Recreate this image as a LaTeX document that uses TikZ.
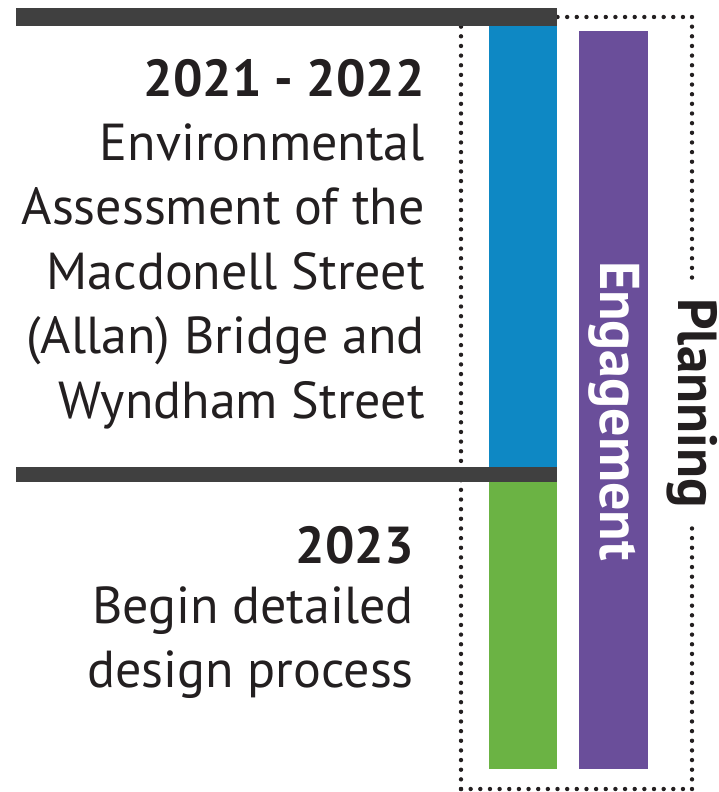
\documentclass[tikz,border=0pt]{standalone}
\usepackage{fontspec}
\setmainfont{PT Sans}
\usetikzlibrary{decorations.markings}
\definecolor{darkbar}{HTML}{404040}
\definecolor{barblue}{HTML}{0E88C4}
\definecolor{bargreen}{HTML}{6BB344}
\definecolor{barpurple}{HTML}{6A4E9A}
\definecolor{txt}{HTML}{231F20}
\tikzset{
  dotline/.style={decoration={markings, mark=between positions 0 and 1 step 9.65pt with {\fill[txt] (0,0) circle (2.2pt);}}, decorate},
  body/.style={anchor=base east, inner sep=0pt, text=txt, font=\fontsize{52}{64}\selectfont},
  year/.style={anchor=base east, inner sep=0pt, text=txt, font=\fontsize{52}{64}\selectfont\bfseries},
  vlabel/.style={rotate=-90, inner sep=0pt, font=\fontsize{56}{60}\selectfont\bfseries},
}
\begin{document}
\begin{tikzpicture}[x=1pt,y=-1pt]
\useasboundingbox (0,0) rectangle (718,792);
% dotted planning box
\coordinate (b1) at (461,17);
\coordinate (b2) at (692,17);
\coordinate (b3) at (692,789);
\coordinate (b4) at (461,789);
\path[dotline] (b1) -- (b2);
\path[dotline] (b2) -- (b3);
\path[dotline] (b4) -- (b3);
\path[dotline] (b1) -- (b4);
% bars
\fill[barblue] (489,26) rectangle (557,467);
\fill[bargreen] (489,482) rectangle (557,769);
\fill[barpurple] (579,31) rectangle (648,769);
\fill[darkbar] (16,8) rectangle (557,26);
\fill[darkbar] (16,467) rectangle (557,482);
% texts
\node[year] (y1) at (425,96) {2021 - 2022};
\node[body] (t1) at (425,160) {Environmental};
\node[body] (t2) at (425,224) {Assessment of the};
\node[body] (t3) at (425,289) {Macdonell Street};
\node[body] (t4) at (425,353) {(Allan) Bridge and};
\node[body] (t5) at (425,418) {Wyndham Street};
\node[year] (y2) at (414,563) {2023};
\node[body] (t6) at (414,623) {Begin detailed};
\node[body] (t7) at (414,687) {design process};
% rotated labels
\node[vlabel, text=white] (eng) at (614,411) {Engagement};
\node[vlabel, fill=white, inner xsep=14pt, inner ysep=2pt, text=txt, font=\fontsize{55}{60}\selectfont\bfseries] (plan) at (692,403) {Planning};
\end{tikzpicture}
\end{document}
